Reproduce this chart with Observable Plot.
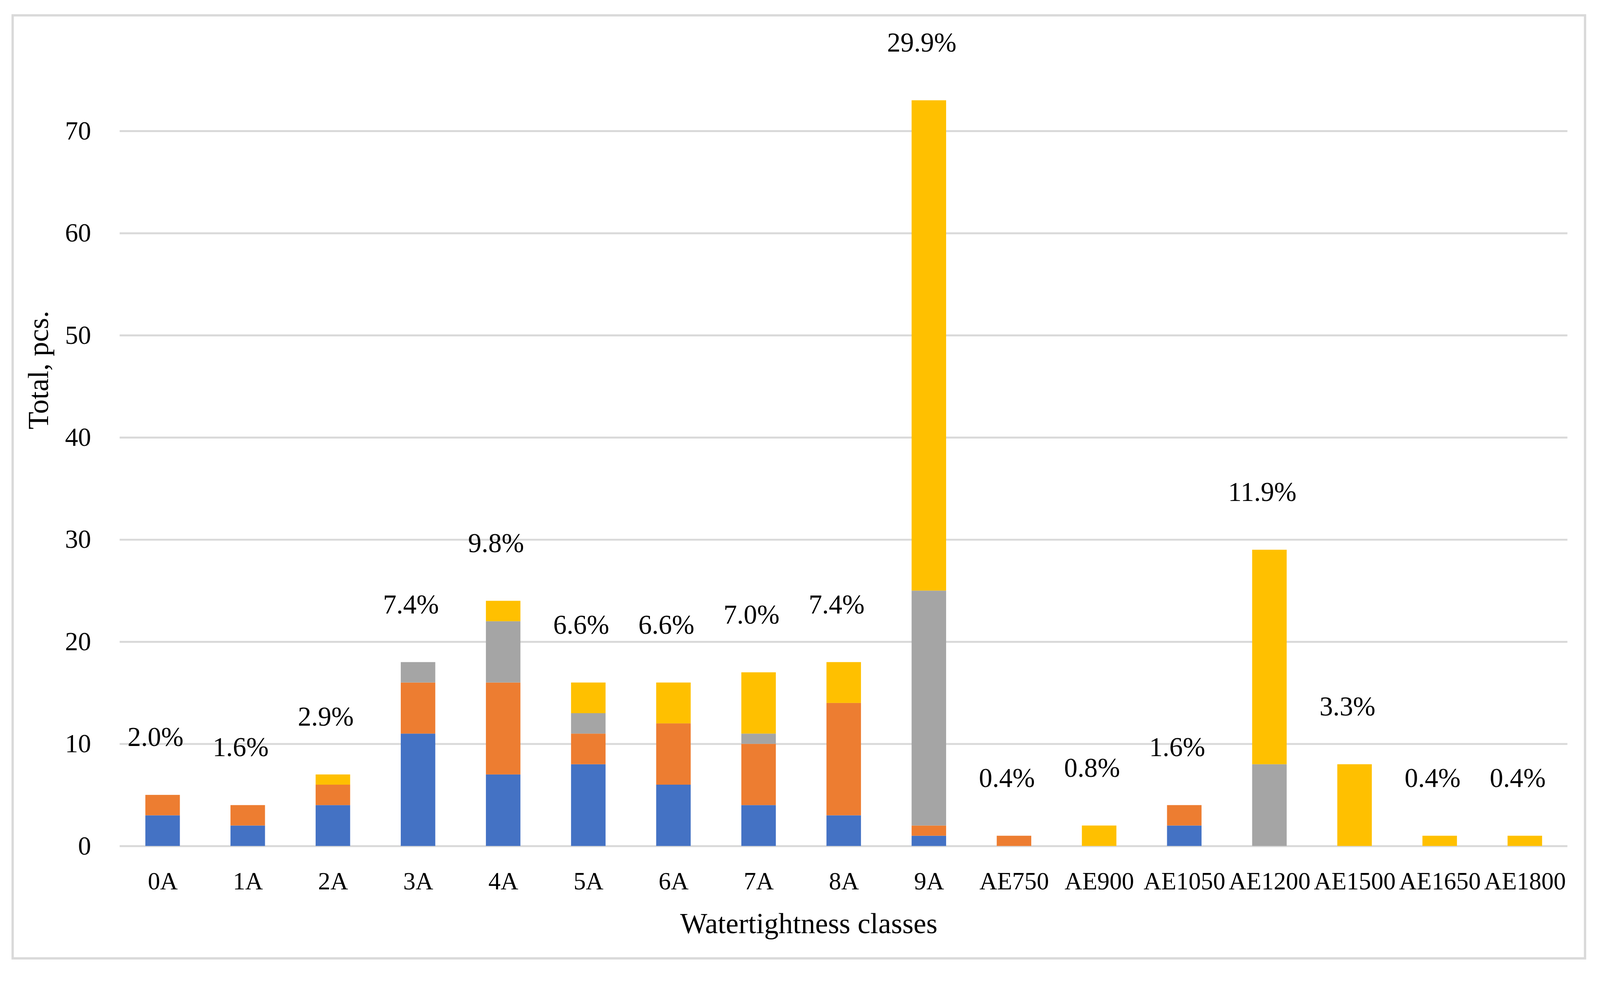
<!DOCTYPE html>
<html>
<head>
<meta charset="utf-8">
<script src="https://cdn.jsdelivr.net/npm/d3@7"></script>
<script src="https://cdn.jsdelivr.net/npm/@observablehq/plot@0.6"></script>
<style>
  html, body { margin: 0; padding: 0; background: #ffffff; }
  #chart svg { display: block; }
</style>
</head>
<body>
<div id="chart"></div>
<script>
// ---- Data ----
const categories = ["0A","1A","2A","3A","4A","5A","6A","7A","8A","9A","AE750","AE900","AE1050","AE1200","AE1500","AE1650","AE1800"];
const seriesNames = ["Series 1","Series 2","Series 3","Series 4"];
const seriesColors = ["#4472C4","#ED7D31","#A5A5A5","#FFC000"];
const series1 = [3,2,4,11,7,8,6,4,3,1,0,0,2,0,0,0,0];
const series2 = [2,2,2,5,9,3,6,6,11,1,1,0,2,0,0,0,0];
const series3 = [0,0,0,2,6,2,0,1,0,23,0,0,0,8,0,0,0];
const series4 = [0,0,1,0,2,3,4,6,4,48,0,2,0,21,8,1,1];
const shareLabels = ["2.0%","1.6%","2.9%","7.4%","9.8%","6.6%","6.6%","7.0%","7.4%","29.9%","0.4%","0.8%","1.6%","11.9%","3.3%","0.4%","0.4%"];
const yTicks = [0,10,20,30,40,50,60,70];
const yTitle = "Total, pcs.";
const xTitle = "Watertightness classes";

// ---- Build long-form table for stacking ----
const seriesValues = [series1, series2, series3, series4];
const rows = categories.flatMap((c, i) =>
  seriesNames.map((s, k) => ({cat: c, series: s, value: seriesValues[k][i]}))
);
const totals = categories.map((c, i) => d3.sum(seriesValues, v => v[i]));

const font = "'Liberation Serif', 'Times New Roman', serif";

const chart = Plot.plot({
  width: 4172,
  height: 2536,
  marginLeft: 312,
  marginRight: 85,
  marginTop: 75,
  marginBottom: 331,
  style: {fontFamily: font, color: "#000000", background: "#ffffff", fontSize: "64px"},
  x: {domain: categories, paddingInner: 0.595, paddingOuter: 0.2975, label: null},
  y: {domain: [0, 80], label: null},
  color: {domain: seriesNames, range: seriesColors},
  marks: [
    Plot.ruleY(yTicks, {stroke: "#D9D9D9", strokeWidth: 5}),
    Plot.barY(rows, {x: "cat", y: "value", fill: "series"}),
    Plot.axisX({tickSize: 0, tickPadding: 67, fontSize: 64, label: null, fill: "#000"}),
    Plot.axisY({ticks: yTicks, tickSize: 0, tickPadding: 75, fontSize: 68, label: null, fill: "#000"}),
    Plot.text(categories, {
      x: d => d,
      y: (d, i) => totals[i],
      text: (d, i) => shareLabels[i],
      dy: -150,
      dx: -19,
      fontSize: 70,
      fill: "#000"
    }),
    Plot.text([yTitle], {text: d => d, frameAnchor: "left", textAnchor: "middle", lineAnchor: "middle", rotate: -90, dx: -211, dy: -176, fontSize: 75, fill: "#000"}),
    Plot.text([xTitle], {text: d => d, frameAnchor: "bottom", textAnchor: "middle", lineAnchor: "middle", dx: -91, dy: 203, fontSize: 75, fill: "#000"})
  ]
});

// outer chart-area border
d3.select(chart).append("rect")
  .attr("x", 33).attr("y", 40)
  .attr("width", 4100).attr("height", 2458)
  .attr("fill", "none")
  .attr("stroke", "#D9D9D9")
  .attr("stroke-width", 6);

document.getElementById("chart").appendChild(chart);
</script>
</body>
</html>
